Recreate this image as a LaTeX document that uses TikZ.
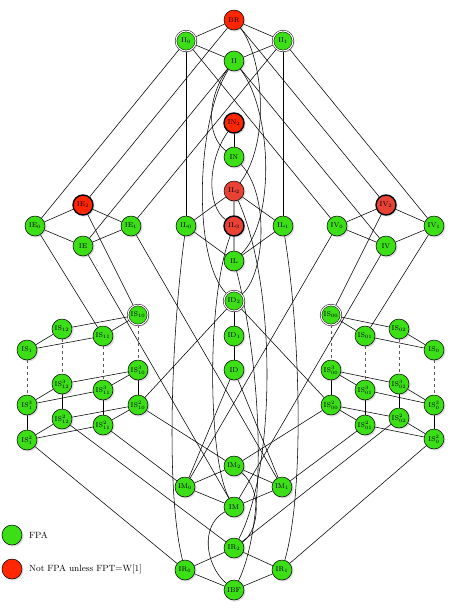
\documentclass[tikz,border=0pt]{standalone}
\usepackage{amsmath}
\usepackage{xcolor}
\usepackage{tikz}
\usetikzlibrary{shadows, backgrounds}
\definecolor{fpagreen}{RGB}{60,222,22}
\definecolor{hardred}{RGB}{255,38,0}
\definecolor{softred}{RGB}{232,66,52}

\begin{document}
\begin{tikzpicture}[x=1pt, y=-1pt,
    cls/.style={circle, draw, line width=0.5pt, minimum size=20pt, inner sep=0pt, font=\fontsize{7}{8}\selectfont,
      circular drop shadow={shadow xshift=0.8pt, shadow yshift=-0.8pt, shadow scale=1.1, opacity=0.3}},
    fpa/.style={cls, fill=fpagreen},
    dbl/.style={fpa, double, double distance=1.1pt},
    brd/.style={cls, fill=hardred},
    hard/.style={cls, fill=hardred, line width=1.4pt},
    soft/.style={cls, fill=softred},
    softhard/.style={cls, fill=softred, line width=1.4pt},
    lnk/.style={line width=0.55pt},
    dsh/.style={lnk, dashed, gray!70!black},
    legtext/.style={right, font=\fontsize{9}{11}\selectfont, inner sep=0pt},
]
\useasboundingbox (0,0) rectangle (456,614);

% top
\node[brd] (BR) at (234,20) {BR};
\node[dbl] (II0) at (186,41) {II$_0$};
\node[dbl] (II1) at (283,41) {II$_1$};
\node[fpa] (II) at (234,61) {II};

% centre column
\node[hard] (IN2) at (234,123) {IN$_2$};
\node[fpa] (IN) at (234,157) {IN};
\node[soft] (IL2) at (234,191) {IL$_2$};
\node[fpa] (IL0) at (186,226) {IL$_0$};
\node[softhard] (IL3) at (234,226) {IL$_3$};
\node[fpa] (IL1) at (283,226) {IL$_1$};
\node[fpa] (IL) at (234,261) {IL};
\node[dbl] (ID2) at (234,301) {ID$_2$};
\node[fpa] (ID1) at (234,336) {ID$_1$};
\node[fpa] (ID) at (234,370) {ID};

% IE and IV
\node[hard] (IE2) at (83,205) {IE$_2$};
\node[fpa] (IE0) at (35,226) {IE$_0$};
\node[fpa] (IE1) at (131,226) {IE$_1$};
\node[fpa] (IE) at (83,246) {IE};
\node[softhard] (IV2) at (386,205) {IV$_2$};
\node[fpa] (IV0) at (337,226) {IV$_0$};
\node[fpa] (IV1) at (434,226) {IV$_1$};
\node[fpa] (IV) at (386,246) {IV};

% left cube
\node[dbl] (IS10-t) at (138,315) {IS$_{10}$};
\node[fpa] (IS12-t) at (62,329) {IS$_{12}$};
\node[fpa] (IS11-t) at (103,336) {IS$_{11}$};
\node[fpa] (IS1-t) at (27,350) {IS$_1$};
\node[fpa] (IS10-3) at (138,370) {IS$^3_{10}$};
\node[fpa] (IS12-3) at (62,384) {IS$^3_{12}$};
\node[fpa] (IS11-3) at (103,390) {IS$^3_{11}$};
\node[fpa] (IS1-3) at (27,405) {IS$^3_1$};
\node[fpa] (IS10-2) at (138,405) {IS$^2_{10}$};
\node[fpa] (IS12-2) at (62,419) {IS$^2_{12}$};
\node[fpa] (IS11-2) at (103,425) {IS$^2_{11}$};
\node[fpa] (IS1-2) at (27,440) {IS$^2_1$};

% right cube
\node[dbl] (IS00-t) at (331,315) {IS$_{00}$};
\node[fpa] (IS02-t) at (399,329) {IS$_{02}$};
\node[fpa] (IS01-t) at (365,336) {IS$_{01}$};
\node[fpa] (IS0-t) at (434,350) {IS$_0$};
\node[fpa] (IS00-3) at (331,370) {IS$^3_{00}$};
\node[fpa] (IS02-3) at (399,384) {IS$^3_{02}$};
\node[fpa] (IS01-3) at (365,390) {IS$^3_{01}$};
\node[fpa] (IS0-3) at (434,405) {IS$^3_0$};
\node[fpa] (IS00-2) at (331,405) {IS$^2_{00}$};
\node[fpa] (IS02-2) at (399,418) {IS$^2_{02}$};
\node[fpa] (IS01-2) at (365,425) {IS$^2_{01}$};
\node[fpa] (IS0-2) at (434,439) {IS$^2_0$};

% bottom
\node[fpa] (IM2) at (234,466) {IM$_2$};
\node[fpa] (IM0) at (185,487) {IM$_0$};
\node[fpa] (IM1) at (282,487) {IM$_1$};
\node[fpa] (IM) at (234,507) {IM};
\node[fpa] (IR2) at (234,548) {IR$_2$};
\node[fpa] (IR0) at (185,570) {IR$_0$};
\node[fpa] (IR1) at (282,570) {IR$_1$};
\node[fpa] (IBF) at (234,590) {IBF};

% legend
\node[fpa] (legfpa) at (12,535) {};
\node[legtext] (legfpatxt) at (29,535) {FPA};
\node[brd] (leghard) at (12,569) {};
\node[legtext] (leghardtxt) at (29,569) {Not FPA unless FPT=W[1]};

\begin{pgfonlayer}{background}
% diamonds
\draw[lnk] (BR) -- (II0) (BR) -- (II1) (II0) -- (II) (II1) -- (II);
\draw[lnk] (IE2) -- (IE0) (IE2) -- (IE1) (IE0) -- (IE) (IE1) -- (IE);
\draw[lnk] (IV2) -- (IV0) (IV2) -- (IV1) (IV0) -- (IV) (IV1) -- (IV);
\draw[lnk] (IL2) -- (IL0) (IL2) -- (IL1) (IL2) -- (IL3) (IL0) -- (IL) (IL1) -- (IL) (IL3) -- (IL);
\draw[lnk] (IM2) -- (IM0) (IM2) -- (IM1) (IM0) -- (IM) (IM1) -- (IM);
\draw[lnk] (IR2) -- (IR0) (IR2) -- (IR1) (IR0) -- (IBF) (IR1) -- (IBF);
\draw[lnk] (IN2) -- (IN) (ID2) -- (ID1) (ID1) -- (ID);

% top to IE, IV, IL
\draw[lnk] (BR) -- (IE2) (II0) -- (IE0) (II1) -- (IE1) (II) -- (IE);
\draw[lnk] (BR) -- (IV2) (II0) -- (IV0) (II1) -- (IV1) (II) -- (IV);
\draw[lnk] (II0) -- (IL0) (II1) -- (IL1);

% cubes
\foreach \l in {t,3,2} {
  \draw[lnk] (IS1-\l) -- (IS12-\l) (IS1-\l) -- (IS11-\l) (IS12-\l) -- (IS10-\l) (IS11-\l) -- (IS10-\l);
  \draw[lnk] (IS00-\l) -- (IS02-\l) (IS00-\l) -- (IS01-\l) (IS02-\l) -- (IS0-\l) (IS01-\l) -- (IS0-\l);
}
\foreach \n in {IS1,IS12,IS11,IS10,IS00,IS01,IS02,IS0} {
  \draw[dsh] (\n-t) -- (\n-3);
  \draw[lnk] (\n-3) -- (\n-2);
}

% into the cubes
\draw[lnk] (IE2) -- (IS10-t) (IE0) -- (IS11-t) (IV2) -- (IS00-t) (IV1) -- (IS01-t);
\draw[lnk] (ID2) -- (IS10-2) (ID2) -- (IS00-2);

% down to IM and IR
\draw[lnk] (IE) -- (IM) (IE1) -- (IM1) (IV) -- (IM) (IV0) -- (IM0);
\draw[lnk] (ID) -- (IM0) (ID) -- (IM1);
\draw[lnk] (IS1-2) -- (IR0) (IS12-2) -- (IR2) (IS11-2) -- (IM0) (IS10-2) -- (IM2);
\draw[lnk] (IS00-2) -- (IM2) (IS01-2) -- (IM1) (IS02-2) -- (IR2) (IS0-2) -- (IR1);

% curved ones through the middle
\draw[lnk] (BR) .. controls (262,55) and (272,140) .. (IL2);
\draw[lnk] (II) .. controls (208,95) and (205,135) .. (IN);
\draw[lnk] (II) .. controls (196,120) and (192,260) .. (ID2);
\draw[lnk] (IN2) .. controls (208,160) and (206,205) .. (IL3);
\draw[lnk] (IN) .. controls (270,195) and (265,275) .. (ID2);
\draw[lnk] (II) .. controls (272,110) and (276,220) .. (IL);
\draw[lnk] (IL2) .. controls (278,290) and (275,470) .. (IR2);
\draw[lnk] (IL) .. controls (262,370) and (268,520) .. (IBF);
\draw[lnk] (IL3) .. controls (206,300) and (208,460) .. (IM);
\draw[lnk] (IL0) .. controls (172,330) and (165,490) .. (IR0);
\draw[lnk] (IL1) .. controls (300,330) and (305,490) .. (IR1);
\draw[lnk] (IM) .. controls (200,525) and (205,565) .. (IBF);
\draw[lnk] (IM2) .. controls (262,490) and (260,530) .. (IR2);
\end{pgfonlayer}
\end{tikzpicture}
\end{document}
